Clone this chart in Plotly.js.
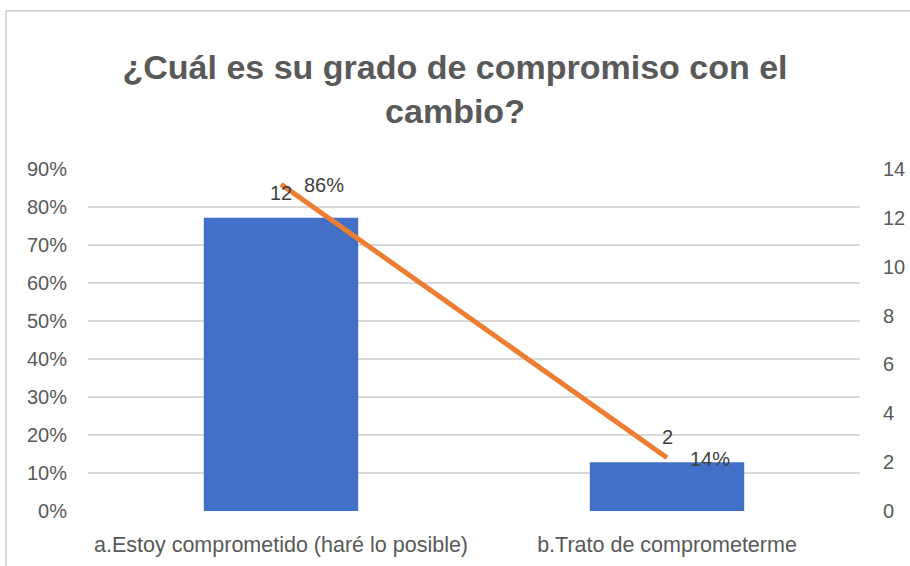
<!DOCTYPE html>
<html>
<head>
<meta charset="utf-8">
<script src="https://cdn.plot.ly/plotly-3.0.1.min.js"></script>
<style>
  html, body { margin: 0; padding: 0; background: #ffffff; }
  #wrap { position: relative; width: 910px; height: 566px; overflow: hidden; }
  #frame { position: absolute; left: 5px; top: 10px; width: 920px; height: 600px;
           border-left: 2px solid #D9D9D9; border-top: 2px solid #D9D9D9; pointer-events: none; }
  #chart { position: absolute; left: 0; top: 0; width: 910px; height: 566px; }
</style>
</head>
<body>
<div id="wrap">
  <div id="frame"></div>
  <div id="chart"></div>
</div>
<script>
// ---- data ----
const categories = ["a.Estoy comprometido (haré lo posible)", "b.Trato de comprometerme"];
const counts = [12, 2];
const percents = [0.86, 0.14];
const titleText = "¿Cuál es su grado de compromiso con el<br>cambio?";

const FONT = "Liberation Sans, Arial, sans-serif";

const barTrace = {
  type: "bar",
  x: categories,
  y: counts,
  yaxis: "y",
  width: 0.4,
  marker: { color: "#4170C6" },
  hoverinfo: "x+y",
  showlegend: false
};

const lineTrace = {
  type: "scatter",
  mode: "lines",
  x: categories,
  y: percents,
  yaxis: "y2",
  line: { color: "#ED7D31", width: 5 },
  hoverinfo: "x+y",
  showlegend: false
};

const annotations = [];
categories.forEach((c, i) => {
  annotations.push({
    x: c, y: counts[i], xref: "x", yref: "y",
    text: String(counts[i]), showarrow: false,
    yshift: 25, font: { family: FONT, size: 20, color: "#404040" }
  });
  annotations.push({
    x: c, y: percents[i], xref: "x", yref: "y2",
    text: Math.round(percents[i] * 100) + "%", showarrow: false,
    xshift: 43, yshift: -1, font: { family: FONT, size: 20, color: "#404040" }
  });
});

const layout = {
  width: 910,
  height: 566,
  margin: { l: 88, r: 50, t: 169, b: 55 },
  paper_bgcolor: "rgba(0,0,0,0)",
  plot_bgcolor: "rgba(0,0,0,0)",
  font: { family: FONT, size: 20, color: "#595959" },
  title: {
    text: titleText,
    font: { family: FONT, size: 34, color: "#595959", weight: "bold" },
    x: 0.5, xref: "container", xanchor: "center",
    y: 1 - 79 / 566, yref: "container", yanchor: "middle"
  },
  bargap: 0.6,
  xaxis: {
    type: "category",
    showgrid: false,
    zeroline: false,
    showline: false,
    ticks: "",
    ticklabelstandoff: 18,
    tickfont: { family: FONT, size: 21.5, color: "#595959" }
  },
  yaxis: {
    side: "right",
    range: [0, 14],
    dtick: 2,
    tick0: 0,
    showgrid: false,
    zeroline: false,
    showline: false,
    ticks: "",
    ticklabelstandoff: 22,
    tickfont: { family: FONT, size: 20, color: "#595959" }
  },
  yaxis2: {
    overlaying: "y",
    side: "left",
    range: [0, 0.9],
    dtick: 0.1,
    tick0: 0,
    tickformat: ".0%",
    showgrid: true,
    gridcolor: "#D9D9D9",
    gridwidth: 1.5,
    zeroline: false,
    showline: false,
    ticks: "",
    ticklabelstandoff: 20,
    tickfont: { family: FONT, size: 20, color: "#595959" }
  },
  annotations: annotations,
  showlegend: false
};

Plotly.newPlot("chart", [barTrace, lineTrace], layout, { displayModeBar: false, staticPlot: true });
</script>
</body>
</html>
